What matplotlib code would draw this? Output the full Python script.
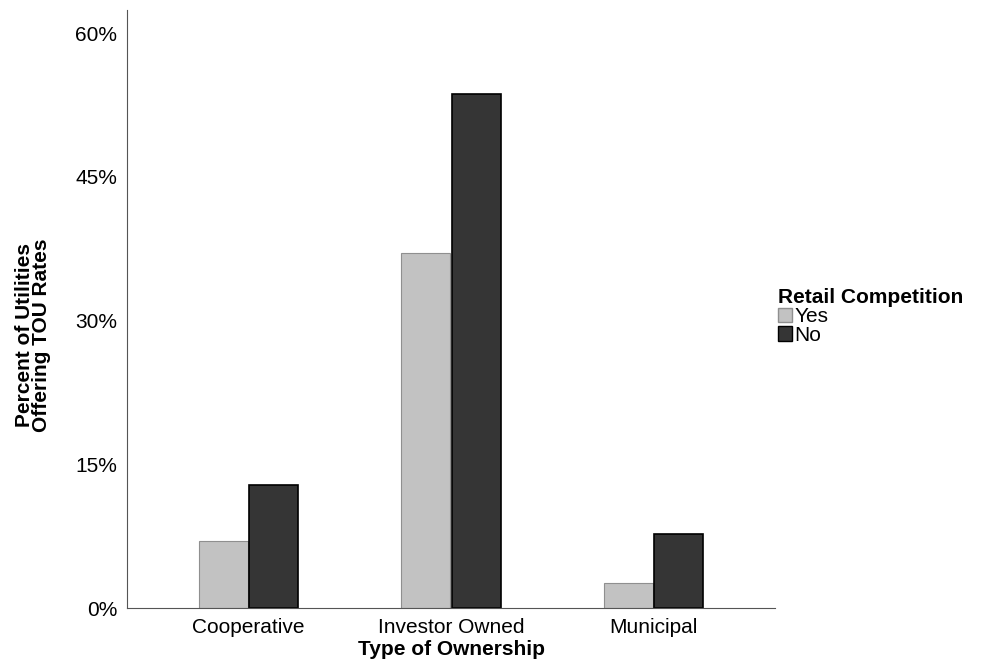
import numpy as np
import matplotlib.pyplot as plt
from matplotlib.patches import Patch

plt.rcParams['font.family'] = ['Liberation Sans', 'DejaVu Sans']

ownership = ["Cooperative", "Investor Owned", "Municipal"]
yes_vals = [7.0, 37.0, 2.6]
no_vals = [12.8, 53.6, 7.7]
yticks = [0, 15, 30, 45, 60]

fig = plt.figure(figsize=(10.05, 6.7), dpi=100)
ax = fig.add_axes([0.1264, 0.0925, 0.6448, 0.8925])

x = np.arange(len(ownership))
w = 0.25
ax.bar(x - w / 2, yes_vals, w * 0.97, color="#c2c2c2", edgecolor="#8f8f8f", linewidth=0.8)
ax.bar(x + w / 2, no_vals, w * 0.97, color="#353535", edgecolor="#000000", linewidth=1.2)

ax.set_xlim(-0.6, 2.6)
ax.set_ylim(0, 62.4)
ax.set_xticks(x)
ax.set_xticklabels(ownership, fontsize=15)
ax.set_yticks(yticks)
ax.set_yticklabels([f"{v}%" for v in yticks], fontsize=15)
ax.tick_params(length=0, pad=7)
for s in ["top", "right"]:
    ax.spines[s].set_visible(False)
ax.spines["left"].set_color("#555555")
ax.spines["bottom"].set_color("#555555")

ax.set_xlabel("Type of Ownership", fontsize=15, fontweight="bold", labelpad=2)
ax.set_ylabel("Percent of Utilities\nOffering TOU Rates", fontsize=15, fontweight="bold", linespacing=0.85)
ax.yaxis.set_label_coords(-0.117, 0.457)

handles = [Patch(facecolor="#c2c2c2", edgecolor="#8f8f8f", label="Yes"),
           Patch(facecolor="#353535", edgecolor="#000000", label="No")]
leg = fig.legend(handles=handles, title="Retail Competition", loc="upper left",
                 bbox_to_anchor=(0.774, 0.57), frameon=False, fontsize=15,
                 title_fontproperties={"weight": "bold", "size": 15},
                 handlelength=0.7, handleheight=0.7, handletextpad=0.1,
                 labelspacing=-0.02, borderpad=0, borderaxespad=0, alignment="left")
leg._legend_box.sep = 0

plt.savefig("out.png", dpi=100)
